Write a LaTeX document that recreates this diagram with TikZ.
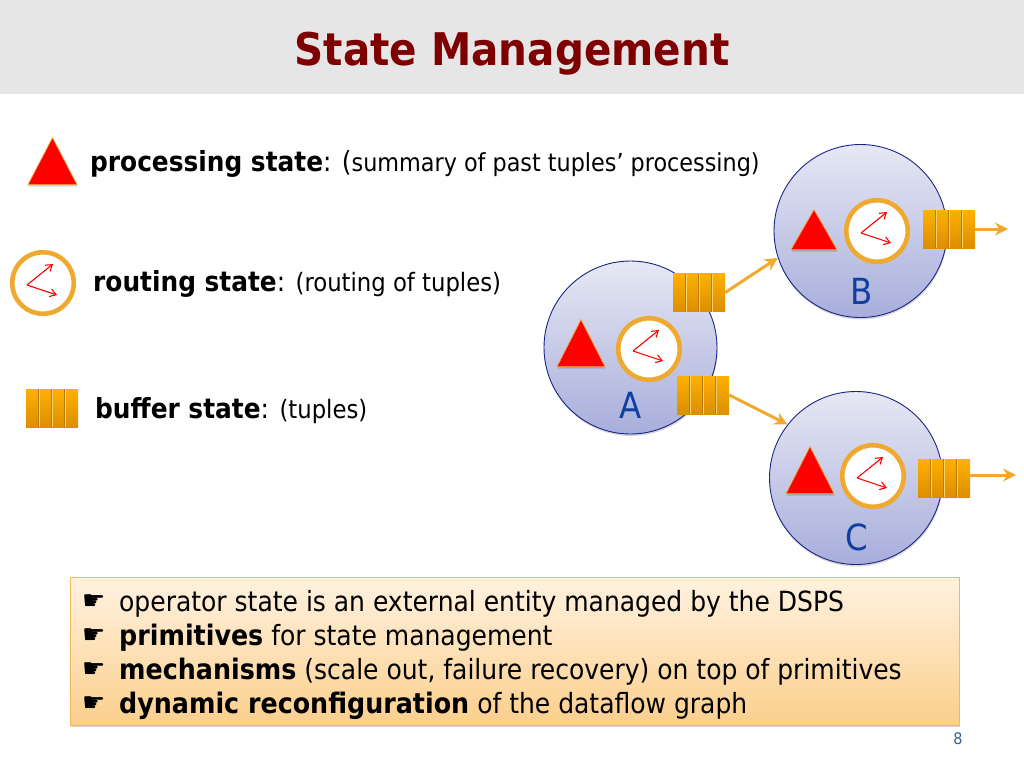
\documentclass[tikz,border=0pt]{standalone}
\usepackage{fontspec}
\setmainfont{DejaVu Sans Condensed}
\newfontfamily\handfont{DejaVu Sans}
\usetikzlibrary{shapes.geometric,shadows,arrows.meta}

\definecolor{headgray}{HTML}{E6E6E6}
\definecolor{titlered}{HTML}{7F0000}
\definecolor{edgeorange}{HTML}{EFA92F}
\definecolor{bufftop}{HTML}{FFB000}
\definecolor{buffbot}{HTML}{DC8E00}
\definecolor{opnavy}{HTML}{1B2585}
\definecolor{optop}{HTML}{E6E8F4}
\definecolor{opbot}{HTML}{A8AEDB}
\definecolor{oplabel}{HTML}{0F3F9F}
\definecolor{notetop}{HTML}{FFF2E0}
\definecolor{notebot}{HTML}{FBCF8C}
\definecolor{noteedge}{HTML}{F5B75C}
\definecolor{pagenum}{HTML}{3B5F8F}

\newcommand{\hand}[1]{\hbox to 37pt{\handfont\fontsize{26pt}{26pt}\selectfont\raisebox{1.5pt}{\char"261B}\hfil}#1}
\newcommand{\notebold}[1]{{\fontsize{28.2pt}{34pt}\selectfont\bfseries #1}}

\tikzset{
    softshadow/.style = {drop shadow = {shadow xshift = 0.5pt, shadow yshift = -2pt, opacity = 0.16, fill = black}},
    operator/.style = {circle, draw = opnavy, line width = 0.9pt, inner sep = 0, minimum size = 173pt,
        top color = optop, bottom color = opbot, softshadow},
    oplabeltext/.style = {text = oplabel, font = \fontsize{36pt}{36pt}\selectfont, inner sep = 0},
    procstate/.style = {isosceles triangle, isosceles triangle apex angle = 60, shape border rotate = 90,
        isosceles triangle stretches, fill = red, draw = edgeorange, line width = 0.7pt, inner sep = 0,
        anchor = lower side, softshadow},
    routestate/.style = {circle, draw = edgeorange, line width = 4.6pt, fill = white, inner sep = 0,
        minimum size = 61.5pt, softshadow,
        path picture = {
            \draw[red, line width = 1.1pt, -{Straight Barb[length = 6pt, width = 8pt]}]
                ([shift = {(-16,2)}]path picture bounding box.center) -- +(26,-21);
            \draw[red, line width = 1.1pt, -{Straight Barb[length = 6pt, width = 8pt]}]
                ([shift = {(-16,2)}]path picture bounding box.center) -- +(30,10);
        }},
    buffstate/.style = {rectangle, inner sep = 0, minimum width = 52pt, minimum height = 38pt,
        top color = bufftop, bottom color = buffbot,
        path picture = {
            \foreach \off in {-13,0,13} {
                \draw[buffbot!85!black, line width = 0.7pt]
                    ([xshift = \off pt - 0.7pt]path picture bounding box.north) -- ([xshift = \off pt - 0.7pt]path picture bounding box.south);
                \draw[bufftop!55!white, line width = 0.7pt]
                    ([xshift = \off pt]path picture bounding box.north) -- ([xshift = \off pt]path picture bounding box.south);
            }
        }},
    flow/.style = {draw = edgeorange, line width = 3pt, -{Stealth[length = 13pt, width = 13pt]}},
    legendtext/.style = {anchor = base west, inner sep = 0, font = \fontsize{25.3pt}{25.3pt}\selectfont},
}
\newcommand{\bigpart}[1]{{\fontsize{27.6pt}{27.6pt}\selectfont\bfseries #1}}

\begin{document}
\begin{tikzpicture}[x = 1pt, y = -1pt]
    \useasboundingbox (0,0) rectangle (1024,768);
    \fill[headgray] (0,0) rectangle (1024,94);
    \node[inner sep = 0, anchor = base, text = titlered, font = \fontsize{45pt}{45pt}\selectfont\bfseries] (title) at (512,65) {State Management};

    % legend
    \node[procstate, minimum height = 47pt, minimum width = 49pt] (legendproc) at (52.5,185) {};
    \node[legendtext] (proctext) at (90,171) {\bigpart{processing state}\fontsize{27.6pt}{27.6pt}\selectfont: (\fontsize{24.8pt}{24.8pt}\selectfont summary of past tuples’ processing)};
    \node[routestate] (legendroute) at (43,283) {};
    \node[legendtext] (routetext) at (93,291) {\bigpart{routing state}\fontsize{27.6pt}{27.6pt}\selectfont: \fontsize{25.3pt}{25.3pt}\selectfont(routing of tuples)};
    \node[buffstate] (legendbuff) at (52,408) {};
    \node[legendtext] (bufftext) at (95,418) {\bigpart{buffer state}\fontsize{27.6pt}{27.6pt}\selectfont: \fontsize{25.3pt}{25.3pt}\selectfont(tuples)};

    % operators
    \node[operator] (opA) at (630.5,347.5) {};
    \node[operator] (opB) at (860.5,231) {};
    \node[operator] (opC) at (856,478) {};

    \node[procstate, minimum height = 47pt, minimum width = 48pt] (procA) at (581,367) {};
    \node[routestate] (routeA) at (649,349) {};
    \node[oplabeltext] (labelA) at (630.5,405) {A};
    \node[buffstate] (buffAB) at (699,292.5) {};
    \node[buffstate] (buffAC) at (703,395) {};

    \node[procstate, minimum height = 40pt, minimum width = 46pt] (procB) at (814,250) {};
    \node[routestate] (routeB) at (877,231) {};
    \node[oplabeltext] (labelB) at (862,291) {B};
    \node[buffstate] (buffB) at (949,229) {};

    \node[procstate, minimum height = 47pt, minimum width = 48pt] (procC) at (810,494) {};
    \node[routestate] (routeC) at (873,476) {};
    \node[oplabeltext] (labelC) at (857,537) {C};
    \node[buffstate] (buffC) at (944,478) {};

    \coordinate (outB) at (1008,229);
    \coordinate (outC) at (1016,475);
    \draw[flow] (buffAB.east) -- (opB.198);
    \draw[flow] (buffAC.east) -- (opC.142);
    \draw[flow] (buffB.east) -- (outB);
    \draw[flow] (buffC.east |- outC) -- (outC);

    % note box
    \node[rectangle, draw = noteedge, line width = 0.8pt, top color = notetop, bottom color = notebot,
        minimum width = 889pt, minimum height = 148pt, inner sep = 0, softshadow] (note) at (514.5,651) {};
    \node[anchor = base west, inner sep = 0, align = left, font = \fontsize{27.8pt}{34pt}\selectfont] (notetext) at (82,713) {%
        \hand{operator state is an external entity managed by the DSPS}\\
        \hand{\notebold{primitives} for state management}\\
        \hand{\notebold{mechanisms} (scale out, failure recovery) on top of primitives}\\
        \hand{\notebold{dynamic reconfiguration} of the dataflow graph}};

    \node[inner sep = 0, text = pagenum, font = \fontsize{16pt}{16pt}\selectfont] (page) at (958,739) {8};
\end{tikzpicture}
\end{document}
